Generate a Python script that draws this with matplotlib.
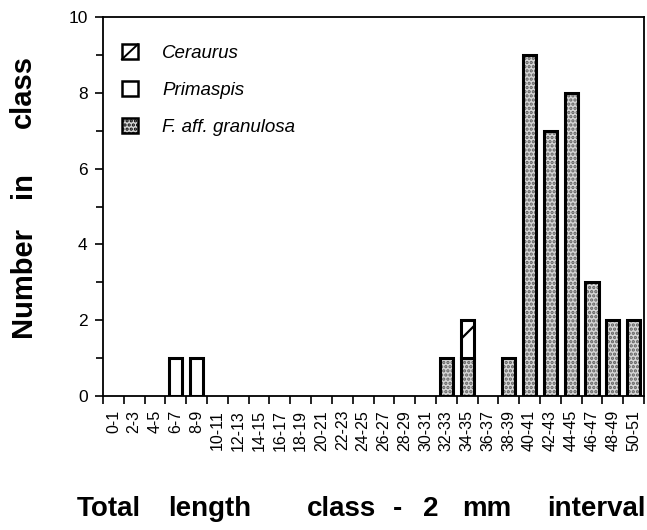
import matplotlib
matplotlib.use('Agg')
import matplotlib.pyplot as plt
from matplotlib.patches import Patch, Rectangle
from matplotlib.lines import Line2D
from matplotlib.legend_handler import HandlerPatch
import numpy as np

plt.rcParams['font.family'] = ['Liberation Sans', 'DejaVu Sans']
plt.rcParams['hatch.linewidth'] = 1.6

classes = ["0-1", "2-3", "4-5", "6-7", "8-9", "10-11", "12-13", "14-15", "16-17",
           "18-19", "20-21", "22-23", "24-25", "26-27", "28-29", "30-31", "32-33",
           "34-35", "36-37", "38-39", "40-41", "42-43", "44-45", "46-47", "48-49", "50-51"]
granulosa = [0, 0, 0, 0, 0, 0, 0, 0, 0, 0, 0, 0, 0, 0, 0, 0, 1, 1, 0, 1, 9, 7, 8, 3, 2, 2]
primaspis = [0, 0, 0, 1, 1, 0, 0, 0, 0, 0, 0, 0, 0, 0, 0, 0, 0, 0, 0, 0, 0, 0, 0, 0, 0, 0]
ceraurus  = [0, 0, 0, 0, 0, 0, 0, 0, 0, 0, 0, 0, 0, 0, 0, 0, 0, 1, 0, 0, 0, 0, 0, 0, 0, 0]
series_names = ["Ceraurus", "Primaspis", "F. aff. granulosa"]
y_ticks = [0, 2, 4, 6, 8, 10]
ylabel_words = ["Number", "in", "class"]
xlabel_words = ["Total", "length", "class", "-", "2", "mm", "interval"]

W, H = 647, 530
fig = plt.figure(figsize=(W / 100, H / 100), dpi=100)
ax = fig.add_axes([103 / W, 1 - 396 / H, (644 - 103) / W, (396 - 17) / H])

x = np.arange(len(classes))
g = np.array(granulosa)
p = np.array(primaspis)
c = np.array(ceraurus)
bw = 0.63
stip_face = '#d6d6d6'
stip_hatch = '#5e5e5e'

# granulosa (stippled)
mg = g > 0
ax.bar(x[mg], g[mg], width=bw, color=stip_face, edgecolor=stip_hatch, hatch='....',
       linewidth=0, zorder=2)
ax.bar(x[mg], g[mg], width=bw, fill=False, edgecolor='black', linewidth=2.2, zorder=3)
# primaspis (white) stacked on granulosa
mp = p > 0
ax.bar(x[mp], p[mp], bottom=g[mp], width=bw, facecolor='white', edgecolor='black',
       linewidth=2.2, zorder=3)
# ceraurus (hatched) stacked on top
mc = c > 0
ax.bar(x[mc], c[mc], bottom=(g + p)[mc], width=bw, facecolor='white', edgecolor='black',
       hatch='/', linewidth=2.2, zorder=3)

ax.set_xlim(-0.5, len(classes) - 0.5)
ax.set_ylim(0, 10)

# ticks
ax.set_yticks(y_ticks)
ax.set_yticks(np.arange(1, 10, 2), minor=True)
ax.set_yticklabels([str(v) for v in y_ticks], fontsize=12.5)
ax.tick_params(axis='y', which='major', direction='out', length=6, width=1.2, pad=5)
ax.tick_params(axis='y', which='minor', direction='out', length=5, width=1.2)

ax.set_xticks(np.arange(len(classes) + 1) - 0.5)
ax.set_xticklabels([])
ax.set_xticks(x, minor=True)
ax.set_xticklabels(classes, minor=True, rotation=90, fontsize=11.5)
ax.tick_params(axis='x', which='major', direction='out', length=6, width=1.2)
ax.tick_params(axis='x', which='minor', length=0, pad=10)

for s in ax.spines.values():
    s.set_linewidth(1.3)


class DiagHandler(HandlerPatch):
    def create_artists(self, legend, orig_handle, xdescent, ydescent, width, height,
                       fontsize, trans):
        r = Rectangle((-xdescent, -ydescent), width, height, facecolor='white',
                      edgecolor='black', linewidth=1.8, transform=trans)
        ln = Line2D([-xdescent, -xdescent + width], [-ydescent, -ydescent + height],
                    color='black', linewidth=1.4, transform=trans)
        return [r, ln]


# legend
handles = [
    Patch(facecolor='white', edgecolor='black', linewidth=1.8),
    Patch(facecolor='white', edgecolor='black', linewidth=1.8),
    Patch(facecolor=stip_face, edgecolor='black', hatch='....', linewidth=1.8),
]
leg = ax.legend(handles, series_names, loc='upper left', bbox_to_anchor=(0.035, 0.928),
                frameon=False, prop={'style': 'italic', 'size': 13.5},
                handlelength=0.85, handleheight=0.85, labelspacing=1.0, handletextpad=1.3,
                borderaxespad=0, borderpad=0, handler_map={handles[0]: DiagHandler()})

# y label words (placed along the axis as in the original)
ylabel_centers = [282, 185, 92]
for w, yc in zip(ylabel_words, ylabel_centers):
    fig.text(23 / W, 1 - yc / H, w, rotation=90, ha='center', va='center',
             fontsize=21, fontweight='bold')

# x label words
xlabel_lefts = [77, 168, 307, 393, 423, 462, 547]
for w, xl in zip(xlabel_words, xlabel_lefts):
    fig.text(xl / W, 1 - 516 / H, w, ha='left', va='baseline',
             fontsize=20, fontweight='bold')

fig.savefig('out.png', dpi=100)
